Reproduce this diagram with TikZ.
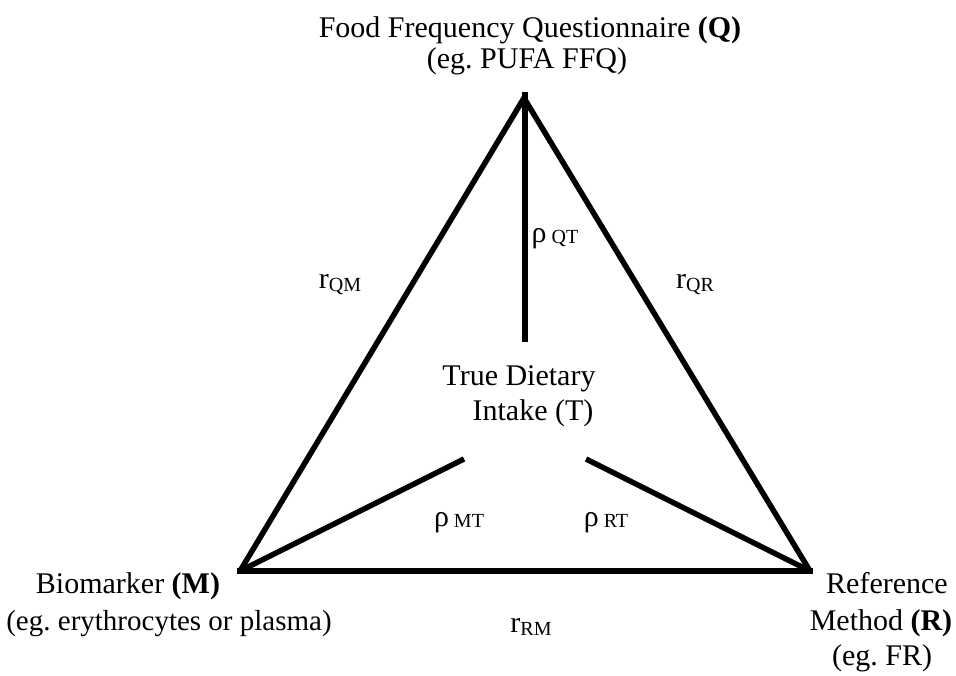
\documentclass[tikz,border=0pt]{standalone}
\usepackage{fontspec}
\setmainfont{Liberation Serif}
\frenchspacing
\newcommand\lowsub[1]{\raisebox{-0.28ex}{\fontsize{20}{20}\selectfont #1}}
\newcommand\rhosub[1]{\raisebox{-0.1ex}{\fontsize{20}{20}\selectfont #1}}
\begin{document}
\begin{tikzpicture}[x=1pt,y=-1pt,
  edge/.style={line width=5.5pt},
  lbl/.style={inner sep=0pt, anchor=base, font=\fontsize{30}{35}\selectfont}]
\useasboundingbox (0,0) rectangle (956,675);
% vertices
\coordinate (Q) at (524,98);
\coordinate (M) at (240,571);
\coordinate (R) at (810,571);
\coordinate (Mb) at (237,571);
\coordinate (Rb) at (813,571);
\coordinate (Qt) at (525,92);
\coordinate (Tq) at (525,342);
\coordinate (Tm) at (464,459);
\coordinate (Tr) at (586,459);
% edges
\draw[edge, line join=miter] (M) -- (Q) -- (R);
\draw[edge] (Mb) -- (Rb);
\draw[edge] (Qt) -- (Tq);
\draw[edge] (M) -- (Tm);
\draw[edge] (R) -- (Tr);
% labels
\node[lbl] (q1) at (530,37) {Food Frequency Questionnaire {\bfseries(Q)}};
\node[lbl] (q2) at (527,68) {(eg. PUFA FFQ)};
\node[lbl] (m1) at (128,593) {Biomarker {\bfseries(M)}};
\node[lbl, font=\fontsize{29}{34}\selectfont] (m2) at (169,630) {(eg. erythrocytes or plasma)};
\node[lbl] (r1) at (887,593) {Reference};
\node[lbl] (r2) at (881,630) {Method {\bfseries(R)}};
\node[lbl] (r3) at (882,665) {(eg. FR)};
\node[lbl] (t1) at (519,385) {True Dietary};
\node[lbl] (t2) at (533,420) {Intake (T)};
\node[lbl] (rqt) at (555,242) {ρ\,\rhosub{QT}};
\node[lbl] (rmt) at (459,526) {ρ\,\rhosub{MT}};
\node[lbl] (rrt) at (606,526) {ρ\,\rhosub{RT}};
\node[lbl] (rqm) at (340,288) {r\lowsub{QM}};
\node[lbl] (rqr) at (695,288) {r\lowsub{QR}};
\node[lbl] (rrm) at (531,632) {r\lowsub{RM}};
\end{tikzpicture}
\end{document}
